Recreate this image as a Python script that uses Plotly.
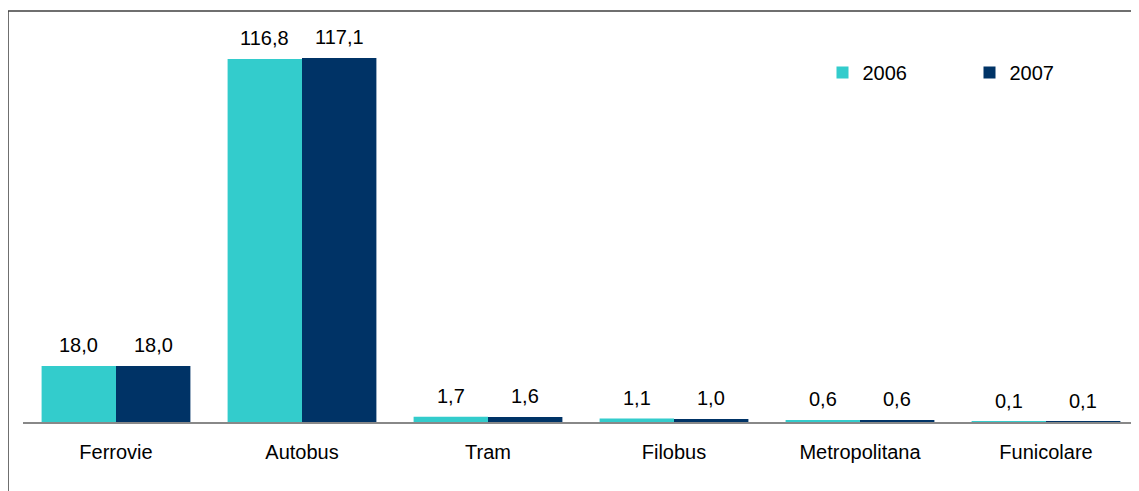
import plotly.graph_objects as go

categories = ["Ferrovie", "Autobus", "Tram", "Filobus", "Metropolitana", "Funicolare"]
values_2006 = [18.0, 116.8, 1.7, 1.1, 0.6, 0.1]
values_2007 = [18.0, 117.1, 1.6, 1.0, 0.6, 0.1]
series_names = ["2006", "2007"]
series_colors = ["#33CCCC", "#003366"]

OFF = 8  # page body margin
W, H = 1139 - OFF, 491 - OFF
ml, mr, mt, mb = 23 - OFF, 0, 18 - OFF, 69
plot_w = W - ml - mr
plot_h = H - mt - mb
ymax = 130

font = dict(family="Liberation Sans, Arial, sans-serif", size=20, color="#000000")

fig = go.Figure()
for name, vals, col in zip(series_names, [values_2006, values_2007], series_colors):
    fig.add_trace(go.Bar(name=name, x=categories, y=vals, marker=dict(color=col, line=dict(width=0))))

# data labels
cat_w = plot_w / len(categories)
bar_w = cat_w * 0.8 / 2
annotations = []
for i, vals in enumerate([values_2006, values_2007]):
    shift = -bar_w / 2 if i == 0 else bar_w / 2
    for c, v in zip(categories, vals):
        annotations.append(dict(
            x=c, y=v, xref="x", yref="y", text=f"{v:.1f}".replace(".", ","),
            showarrow=False, xshift=shift, yshift=8, yanchor="bottom", xanchor="center",
            font=font,
        ))

fig.update_layout(
    width=W, height=H,
    margin=dict(l=ml, r=mr, t=mt, b=mb, pad=0),
    paper_bgcolor="white", plot_bgcolor="white",
    barmode="group", bargap=0.2, bargroupgap=0,
    font=font,
    showlegend=True,
    legend=dict(orientation="h", x=(822.5 - 23) / plot_w, xanchor="left",
                y=1 - (72 - 18 - 19) / plot_h, yanchor="top",
                font=font, entrywidth=102, entrywidthmode="pixels",
                bgcolor="rgba(0,0,0,0)", itemclick=False),
    annotations=annotations,
    xaxis=dict(showline=True, linecolor="#888888", linewidth=1.5, ticks="",
               showgrid=False, zeroline=False, tickfont=font, ticklabelstandoff=11),
    yaxis=dict(range=[0, ymax], visible=False, showgrid=False, zeroline=False),
    shapes=[dict(type="rect", xref="paper", yref="paper",
                 x0=(8 - 23) / plot_w, x1=1.05,
                 y0=-0.3, y1=1 + (18 - 11) / plot_h,
                 line=dict(color="#404040", width=1.5), fillcolor="rgba(0,0,0,0)",
                 layer="above")],
)

fig.write_html("out.html")
